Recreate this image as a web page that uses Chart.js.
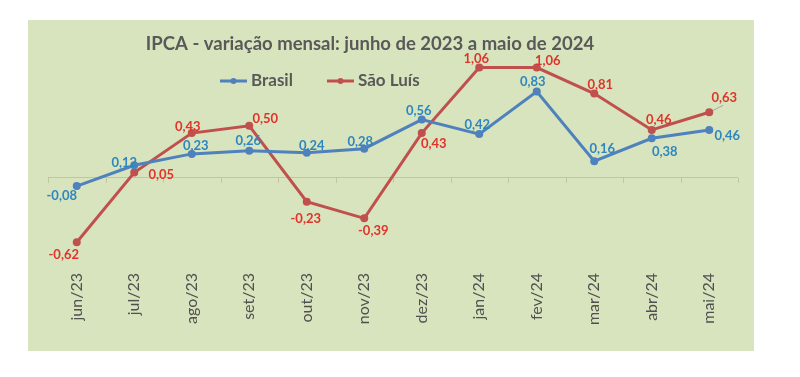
<!DOCTYPE html>
<html lang="pt-BR">
<head>
<meta charset="utf-8">
<title>IPCA - variação mensal</title>
<script src="https://cdn.jsdelivr.net/npm/chart.js@4.4.1/dist/chart.umd.min.js"></script>
<style>
  html, body { margin: 0; padding: 0; background: #fff; }
  #wrap { position: relative; width: 800px; height: 377px; }
</style>
</head>
<body>
<div id="wrap"><canvas id="ipcaChart" width="800" height="377"></canvas></div>
<script>
// data
const months = ['jun/23', 'jul/23', 'ago/23', 'set/23', 'out/23', 'nov/23',
  'dez/23', 'jan/24', 'fev/24', 'mar/24', 'abr/24', 'mai/24'];
const brasil = [-0.08, 0.12, 0.23, 0.26, 0.24, 0.28, 0.56, 0.42, 0.83, 0.16, 0.38, 0.46];
const saoLuis = [-0.62, 0.05, 0.43, 0.50, -0.23, -0.39, 0.43, 1.06, 1.06, 0.81, 0.46, 0.63];
const chartTitle = 'IPCA - variação mensal: junho de 2023 a maio de 2024';

// where each value label sits relative to its point (dx, dy in px)
const brasilLabelOffset = [[-15, 10], [-10, -3], [4, -8], [-1, -10], [5, -7], [-4, -7],
  [-3, -9], [-2, -9], [-4, -10], [8, -12], [13, 14], [18, 6]];
const saoLuisLabelOffset = [[-13, 13], [27, 2], [-4, -6], [16, -7], [-1, 17], [9, 12],
  [12, 11], [-3, -9], [11, -7], [6, -9], [7, -10], [15, -14]];

const FONT = 'Lato, "Open Sans", sans-serif';
const GRAY = '#595959';
const BLUE = '#4F81BD';
const RED = '#C0504D';

// green panel behind everything, plus title and legend drawn on top of it
const panelPlugin = {
  id: 'panel',
  beforeDraw(chart) {
    const ctx = chart.ctx;
    ctx.save();
    ctx.fillStyle = '#D7E4BD';
    ctx.fillRect(28, 20, 726, 331);
    ctx.restore();
  },
  afterDraw(chart) {
    const ctx = chart.ctx;
    ctx.save();
    ctx.fillStyle = GRAY;
    ctx.font = 'bold 18.5px ' + FONT;
    ctx.textAlign = 'center';
    ctx.textBaseline = 'middle';
    ctx.fillText(chartTitle, 370, 44);

    // legend
    const items = [{ x: 220 }, { x: 327 }];
    ctx.font = 'bold 17px ' + FONT;
    ctx.textAlign = 'left';
    chart.data.datasets.forEach((ds, i) => {
      const x0 = items[i].x;
      const y0 = 81;
      ctx.strokeStyle = ds.borderColor;
      ctx.lineWidth = 3;
      ctx.beginPath();
      ctx.moveTo(x0, y0);
      ctx.lineTo(x0 + 27, y0);
      ctx.stroke();
      ctx.fillStyle = ds.borderColor;
      ctx.beginPath();
      ctx.arc(x0 + 13.5, y0, 3, 0, Math.PI * 2);
      ctx.fill();
      ctx.fillStyle = GRAY;
      ctx.fillText(ds.label, x0 + 31, y0);
    });
    ctx.restore();
  }
};

// small tick marks on the zero line between the months
const zeroTicksPlugin = {
  id: 'zeroTicks',
  beforeDatasetsDraw(chart) {
    const x = chart.scales.x;
    const y0 = chart.scales.y.getPixelForValue(0);
    const ctx = chart.ctx;
    const half = (x.getPixelForValue(1) - x.getPixelForValue(0)) / 2;
    ctx.save();
    ctx.strokeStyle = '#C4C4A4';
    ctx.lineWidth = 1;
    for (let i = 0; i <= months.length; i++) {
      const px = Math.round(x.getPixelForValue(i) - half) + 0.5;
      ctx.beginPath();
      ctx.moveTo(px, y0);
      ctx.lineTo(px, y0 + 5);
      ctx.stroke();
    }
    ctx.restore();
  }
};

// value labels, comma decimals
const valueLabelsPlugin = {
  id: 'valueLabels',
  beforeDatasetsDraw(chart) {
    // thin leader line for the last São Luís label
    const pt = chart.getDatasetMeta(1).data[months.length - 1];
    const ctx = chart.ctx;
    ctx.save();
    ctx.strokeStyle = '#A6A6A6';
    ctx.lineWidth = 1;
    ctx.beginPath();
    ctx.moveTo(pt.x, pt.y);
    ctx.lineTo(pt.x + 14, pt.y - 7);
    ctx.stroke();
    ctx.restore();
  },
  afterDatasetsDraw(chart) {
    const ctx = chart.ctx;
    ctx.save();
    ctx.font = 'bold 13px ' + FONT;
    ctx.textAlign = 'center';
    ctx.textBaseline = 'middle';
    chart.data.datasets.forEach((ds, i) => {
      const meta = chart.getDatasetMeta(i);
      meta.data.forEach((pt, j) => {
        const off = ds.labelOffset[j];
        ctx.fillStyle = ds.labelColor;
        ctx.fillText(ds.data[j].toFixed(2).replace('.', ','), pt.x + off[0], pt.y + off[1]);
      });
    });
    ctx.restore();
  }
};

const ctx = document.getElementById('ipcaChart').getContext('2d');
new Chart(ctx, {
  type: 'line',
  data: {
    labels: months,
    datasets: [{
      label: 'Brasil',
      data: brasil,
      borderColor: BLUE,
      backgroundColor: BLUE,
      borderWidth: 3,
      pointRadius: 4,
      pointBackgroundColor: BLUE,
      pointBorderWidth: 0,
      tension: 0,
      labelColor: '#2E86C1',
      labelOffset: brasilLabelOffset
    }, {
      label: 'São Luís',
      data: saoLuis,
      borderColor: RED,
      backgroundColor: RED,
      borderWidth: 3,
      pointRadius: 4,
      pointBackgroundColor: RED,
      pointBorderWidth: 0,
      tension: 0,
      labelColor: '#E0332B',
      labelOffset: saoLuisLabelOffset
    }]
  },
  options: {
    responsive: false,
    animation: false,
    layout: { padding: { left: 2, right: 62, top: 53, bottom: 0 } },
    plugins: {
      legend: { display: false },
      title: { display: false },
      tooltip: { enabled: false }
    },
    scales: {
      x: {
        offset: true,
        grid: { display: false, drawTicks: false },
        border: { display: false },
        ticks: {
          minRotation: 90,
          maxRotation: 90,
          padding: 12,
          color: '#505050',
          font: { family: FONT, size: 16 }
        },
        afterFit(scale) { scale.height = 116; }
      },
      y: {
        min: -0.8,
        max: 1.2,
        ticks: { display: false, stepSize: 0.2 },
        border: { display: false },
        grid: {
          drawTicks: false,
          lineWidth: 1,
          color: c => (Math.abs(c.tick.value) < 1e-9 ? '#C4C4A4' : 'rgba(0,0,0,0)')
        },
        afterFit(scale) { scale.width = 46; }
      }
    }
  },
  plugins: [panelPlugin, zeroTicksPlugin, valueLabelsPlugin]
});
</script>
</body>
</html>
